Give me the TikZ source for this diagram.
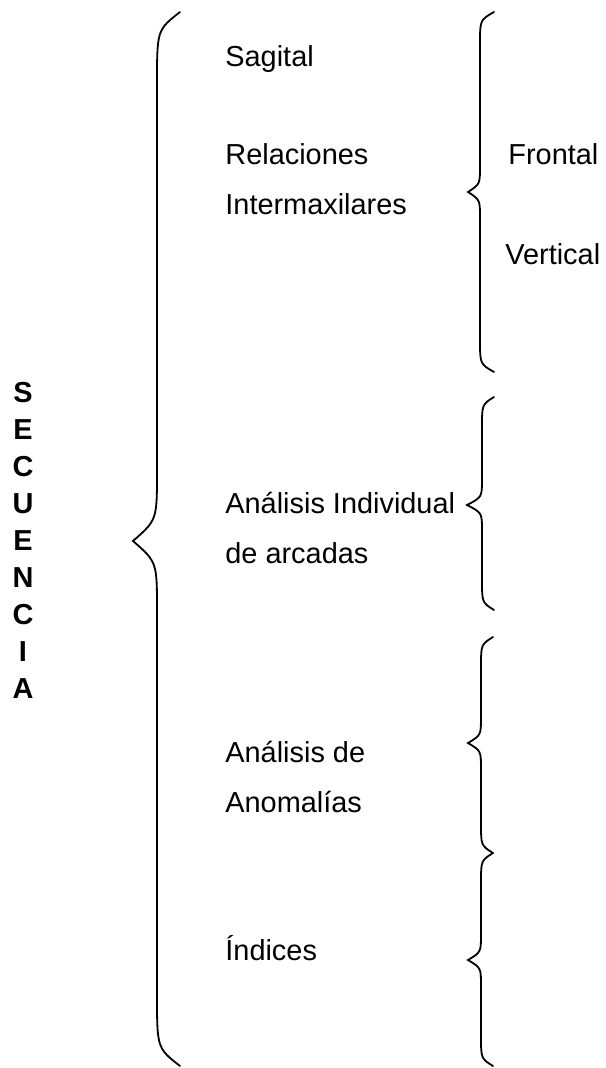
\documentclass[tikz,border=0pt]{standalone}
\usepackage{fontspec}
\setmainfont{Liberation Sans}
\usepackage{tikz}
\usetikzlibrary{positioning}

% brace: x end, x line, x tip, y top, y tip, y bottom, end curve, tip curve
\newcommand{\llave}[8]{%
  \draw[llave] (#1,#4) .. controls (#2,{#4+0.25*#7}) .. (#2,{#4+#7})
    -- (#2,{#5-#8}) .. controls (#2,{#5-0.3*#8}) .. (#3,#5)
    .. controls (#2,{#5+0.3*#8}) .. (#2,{#5+#8})
    -- (#2,{#6-#7}) .. controls (#2,{#6-0.25*#7}) .. (#1,#6);}

\begin{document}
\begin{tikzpicture}[x=0.5pt, y=-0.5pt,
    llave/.style={line width=0.9pt, line cap=round},
    texto/.style={anchor=base west, inner sep=0pt, align=left,
      font=\fontsize{14.45}{25}\selectfont}]
    \useasboundingbox (0,0) rectangle (605,1068);

    % base anchor sits on the last line
    \node[anchor=base, inner sep=0pt, align=center,
      font=\bfseries\fontsize{14.45}{18.45}\selectfont] (secuencia) at (23,698)
      {S\\E\\C\\U\\E\\N\\C\\I\\A};

    \llave{180}{157}{133}{12}{541}{1066}{72}{70}

    \node[texto] (sagital) at (225,67) {Sagital};
    \node[texto] (relaciones) at (225,215) {Relaciones\\Intermaxilares};
    \node[texto] (individual) at (225,563) {Análisis Individual\\de arcadas};
    \node[texto] (anomalias) at (225,812) {Análisis de\\Anomalías};
    \node[texto] (indices) at (225,960) {Índices};

    \llave{494}{480}{468}{12}{192}{372}{32}{26}
    \llave{494}{482}{467}{397}{505}{610}{30}{26}
    \llave{493}{481}{468}{637}{743}{853}{30}{26}
    \llave{493}{481}{468}{853}{960}{1066}{30}{26}

    \node[texto] (frontal) at (508,165) {Frontal};
    \node[texto] (vertical) at (505,265) {Vertical};
  \end{tikzpicture}
\end{document}
